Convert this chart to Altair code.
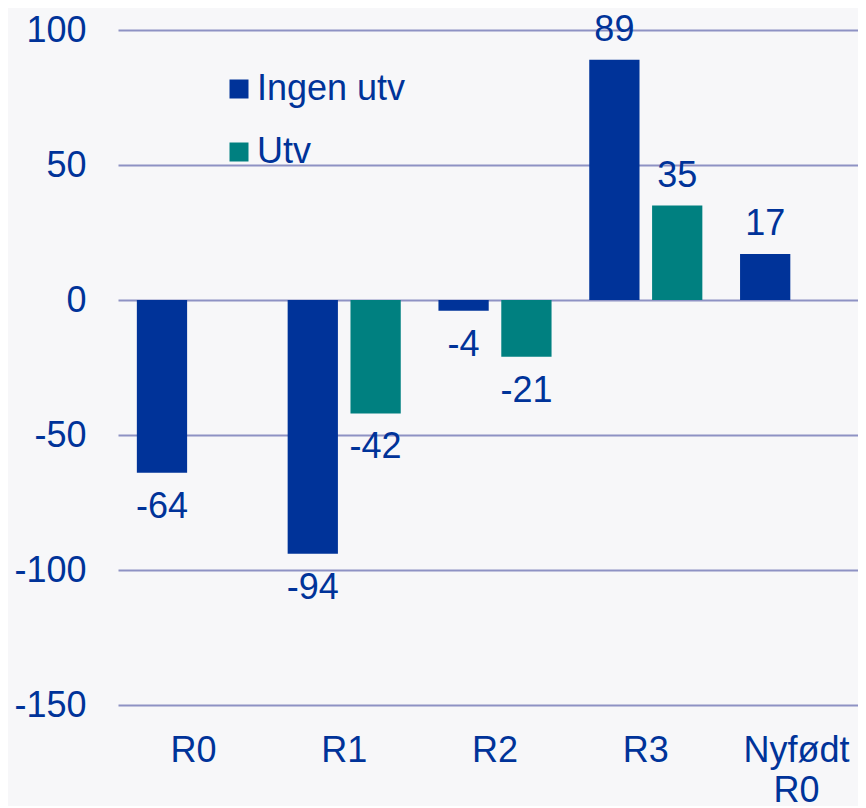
import altair as alt
import pandas as pd

categories = ["R0", "R1", "R2", "R3", "Nyfødt R0"]
series = ["Ingen utv", "Utv"]
ingen_utv = [-64, -94, -4, 89, 17]
utv = [None, -42, -21, 35, None]

rows = []
for c, a, b in zip(categories, ingen_utv, utv):
    if a is not None:
        rows.append({"kat": c, "serie": "Ingen utv", "verdi": a})
    if b is not None:
        rows.append({"kat": c, "serie": "Utv", "verdi": b})
df = pd.DataFrame(rows)

TXT = "#003399"
FONT = "Liberation Sans"
FS = 36

x_enc = alt.X("kat:N", sort=categories, title=None,
              scale=alt.Scale(paddingInner=0.25, paddingOuter=0.125, range=[0, 754]),
              axis=alt.Axis(labelAngle=0, domain=False, ticks=False, grid=False,
                            labelFontSize=FS, labelColor=TXT, labelFont=FONT,
                            labelPadding=28, labelLineHeight=40,
                            labelExpr="datum.value == 'Nyfødt R0' ? ['Nyfødt', 'R0'] : datum.label"))
xo = alt.XOffset("serie:N", sort=series, scale=alt.Scale(paddingInner=0.2, paddingOuter=0))
y_enc = alt.Y("verdi:Q", title=None,
              scale=alt.Scale(domain=[-150, 100], nice=False),
              axis=alt.Axis(values=[-150, -100, -50, 0, 50, 100], domain=False, ticks=False,
                            labelFontSize=FS, labelColor=TXT, labelFont=FONT, labelPadding=32,
                            labelExpr="toString(datum.value)",
                            gridColor="#8e92c4", gridWidth=2, gridOpacity=1))

color = alt.Color("serie:N", sort=series, title=None,
                  scale=alt.Scale(domain=series, range=["#003399", "#008080"]),
                  legend=alt.Legend(orient="none", legendX=103, legendY=41,
                                    symbolType="square", symbolSize=361, symbolStrokeWidth=0,
                                    labelFontSize=FS, labelColor=TXT, labelFont=FONT,
                                    labelOffset=0, rowPadding=27, padding=0))

base = alt.Chart(df).transform_calculate(lbl="toString(datum.verdi)")
bars = base.mark_bar().encode(x=x_enc, xOffset=xo, y=y_enc, color=color)

pos = base.transform_filter("datum.verdi > 0").mark_text(
    baseline="bottom", dy=-11, fontSize=FS, font=FONT, color=TXT
).encode(x=x_enc, xOffset=xo, y="verdi:Q", text="lbl:N")
neg = base.transform_filter("datum.verdi < 0").mark_text(
    baseline="top", dy=17, fontSize=FS, font=FONT, color=TXT
).encode(x=x_enc, xOffset=xo, y="verdi:Q", text="lbl:N")

chart = alt.layer(bars, pos, neg).properties(
    width=740, height=675,
    autosize=alt.AutoSizeParams(type="none"),
    padding={"left": 110, "top": 22, "right": 0, "bottom": 101},
    background="#f7f7f9",
).configure_view(stroke=None).configure_axis(gridCap="butt")

chart.save("out.html", embed_options={"renderer": "svg", "actions": False})
